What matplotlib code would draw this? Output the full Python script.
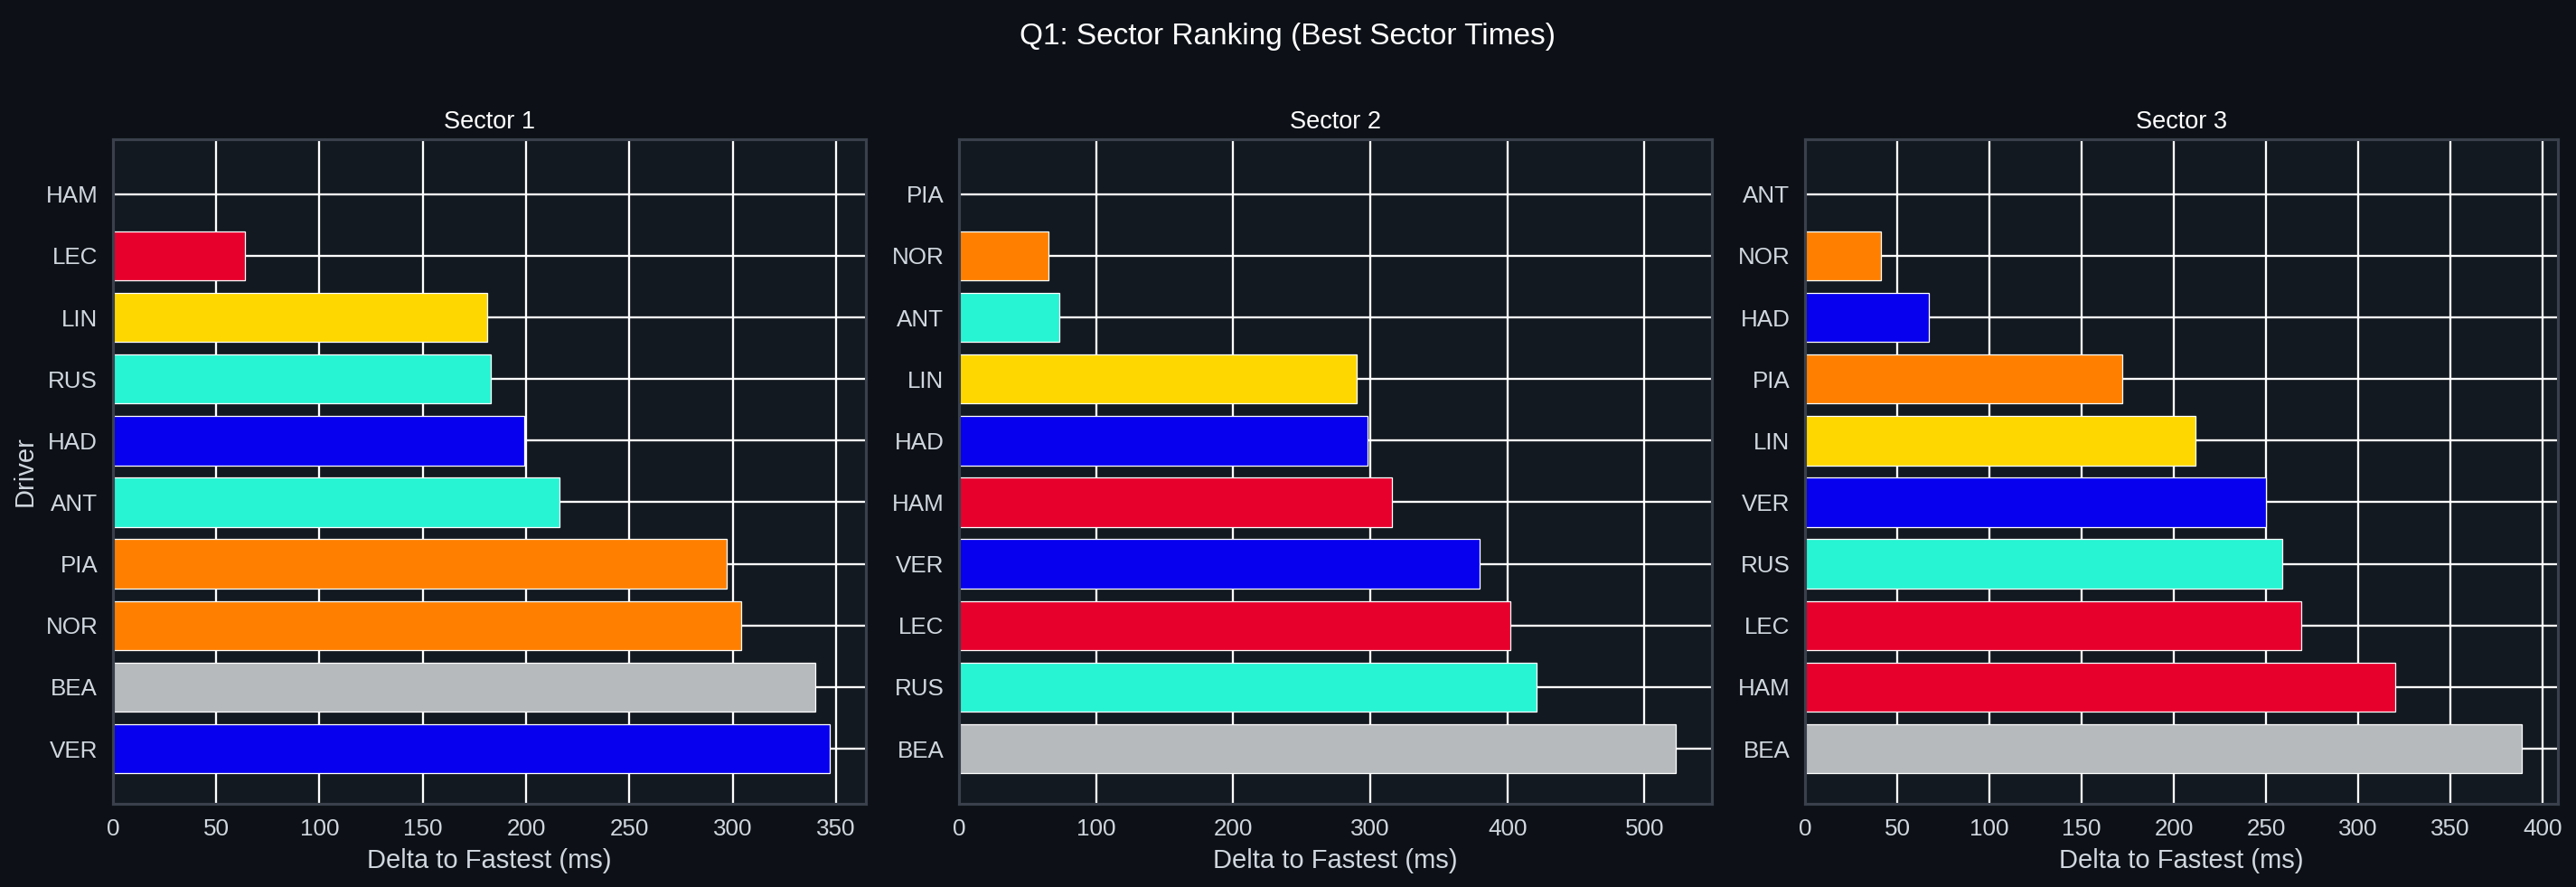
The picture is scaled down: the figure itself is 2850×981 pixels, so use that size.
import matplotlib
matplotlib.use('Agg')
import matplotlib.pyplot as plt

plt.rcParams['font.family'] = ['Liberation Sans', 'DejaVu Sans']

# team colours
RED = '#E8002D'
ORANGE = '#FF8000'
YELLOW = '#FFD700'
TEAL = '#27F4D2'
BLUE = '#0600EF'
GREY = '#B6BABD'

s1_drivers = ['HAM', 'LEC', 'LIN', 'RUS', 'HAD', 'ANT', 'PIA', 'NOR', 'BEA', 'VER']
s1_delta = [0, 64, 181, 183, 199, 216, 297, 304, 340, 347]
s1_colors = [RED, RED, YELLOW, TEAL, BLUE, TEAL, ORANGE, ORANGE, GREY, BLUE]

s2_drivers = ['PIA', 'NOR', 'ANT', 'LIN', 'HAD', 'HAM', 'VER', 'LEC', 'RUS', 'BEA']
s2_delta = [0, 65, 73, 290, 298, 316, 380, 402, 421, 523]
s2_colors = [ORANGE, ORANGE, TEAL, YELLOW, BLUE, RED, BLUE, RED, TEAL, GREY]

s3_drivers = ['ANT', 'NOR', 'HAD', 'PIA', 'LIN', 'VER', 'RUS', 'LEC', 'HAM', 'BEA']
s3_delta = [0, 41, 67, 172, 212, 250, 259, 269, 320, 389]
s3_colors = [TEAL, ORANGE, BLUE, ORANGE, YELLOW, BLUE, TEAL, RED, RED, GREY]

sectors = [
    ('Sector 1', s1_drivers, s1_delta, s1_colors),
    ('Sector 2', s2_drivers, s2_delta, s2_colors),
    ('Sector 3', s3_drivers, s3_delta, s3_colors),
]

fig_bg = '#0d1117'
ax_bg = '#131920'
txt = '#d0d7de'

fig, axes = plt.subplots(1, 3, figsize=(19, 6.54), dpi=150)
fig.patch.set_facecolor(fig_bg)
fig.subplots_adjust(left=0.0438, right=0.993, top=0.843, bottom=0.094, wspace=0.124)

for i, (name, drivers, delta, colors) in enumerate(sectors):
    ax = axes[i]
    ax.set_facecolor(ax_bg)
    ax.barh(drivers, delta, color=colors, edgecolor='white', linewidth=0.6, height=0.8)
    ax.invert_yaxis()
    ax.set_axisbelow(True)
    ax.grid(True, color='white', linewidth=1.1)
    ax.set_title(name, color='white', fontsize=13)
    ax.set_xlabel('Delta to Fastest (ms)', color=txt, fontsize=14)
    if i == 0:
        ax.set_ylabel('Driver', color=txt, fontsize=14)
    ax.tick_params(colors=txt, labelsize=12.5, length=0, pad=8)
    for sp in ax.spines.values():
        sp.set_color('#3a414d')
        sp.set_linewidth(1.5)

fig.suptitle('Q1: Sector Ranking (Best Sector Times)', color='white', fontsize=16, y=0.975)

plt.savefig('out.png', dpi=150, facecolor=fig_bg)
